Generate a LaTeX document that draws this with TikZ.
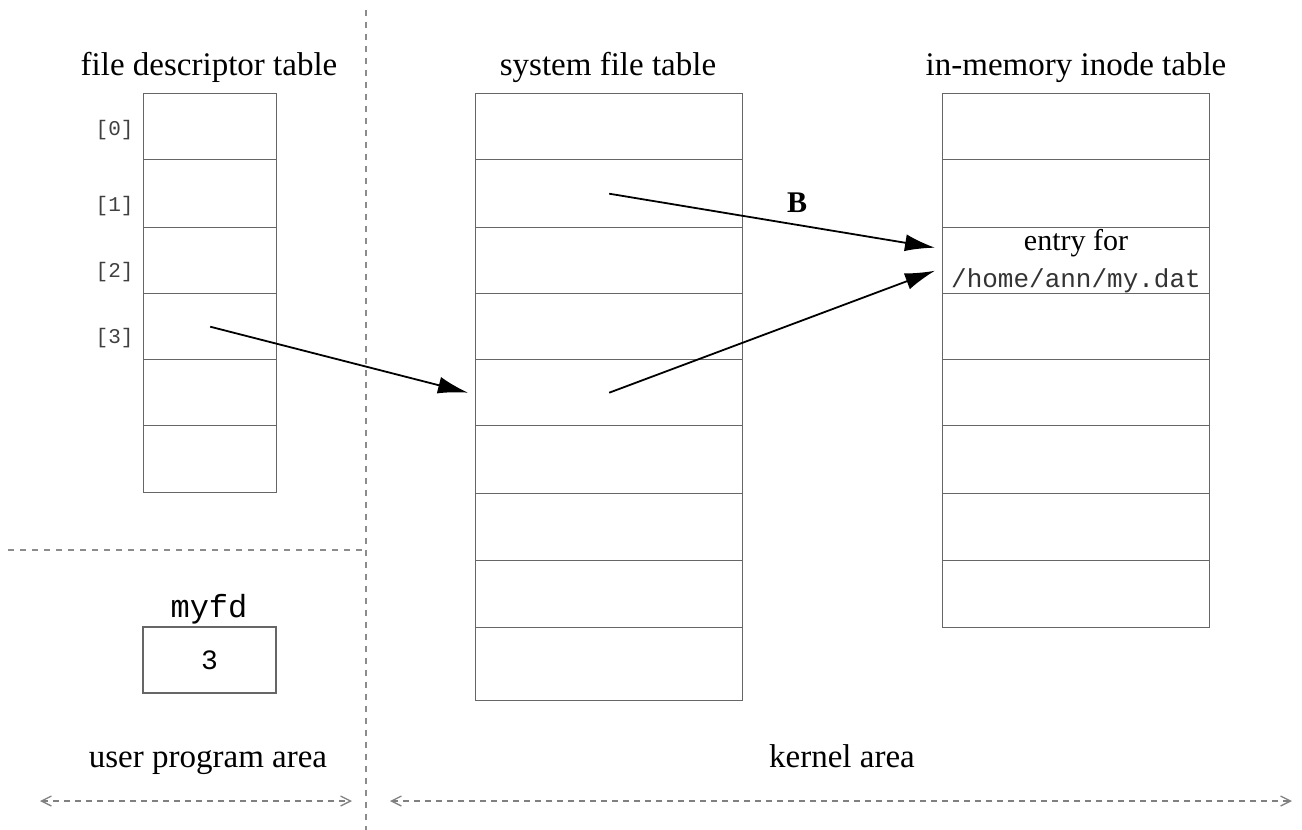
\documentclass[tikz,border=0pt]{standalone}
\usepackage{fontspec}
\setmainfont{Liberation Serif}
\setmonofont{Liberation Mono}
\usetikzlibrary{arrows.meta}
\begin{document}
\begin{tikzpicture}[x=1pt,y=-1pt,
  cell/.style={draw=black!60,line width=1.4pt,inner sep=0pt,anchor=north west},
  ttl/.style={font=\fontsize{33}{38}\selectfont,anchor=base},
  idx/.style={font=\ttfamily\fontsize{21}{24}\selectfont,anchor=base east,text=black!75},
  ptr/.style={line width=1.8pt,-{Latex[length=30pt,width=17pt]}},
  divider/.style={draw=black!45,line width=1.3pt,dash pattern=on 6pt off 6pt},
  span/.style={draw=black!50,line width=1.3pt,dash pattern=on 6pt off 5pt,{Straight Barb[length=10pt,width=10pt]}-{Straight Barb[length=10pt,width=10pt]}}]
\useasboundingbox (0,0) rectangle (1302,830);
% file descriptor table
\foreach \i/\t/\b in {0/93/159,1/159/227,2/227/293,3/293/359,4/359/425,5/425/492}{
  \node[cell,minimum width=133pt,minimum height={(\b-\t)*1pt}] (fd-\i) at (143,\t) {};
}
% system file table
\foreach \i/\t/\b in {0/93/159,1/159/227,2/227/293,3/293/359,4/359/425,5/425/493,6/493/560,7/560/627,8/627/700}{
  \node[cell,minimum width=267pt,minimum height={(\b-\t)*1pt}] (sf-\i) at (475,\t) {};
}
% in-memory inode table
\foreach \i/\t/\b in {0/93/159,1/159/227,2/227/293,3/293/359,4/359/425,5/425/493,6/493/560,7/560/627}{
  \node[cell,minimum width=267pt,minimum height={(\b-\t)*1pt}] (in-\i) at (942,\t) {};
}
% titles
\node[ttl] (tfd) at (209,75) {file descriptor table};
\node[ttl] (tsf) at (608,75) {system file table};
\node[ttl] (tin) at (1076,75) {in-memory inode table};
% indices
\node[idx] (i0) at (137,135) {[0]};
\node[idx] (i1) at (137,211) {[1]};
\node[idx] (i2) at (137,277) {[2]};
\node[idx] (i3) at (137,343) {[3]};
% entry text
\node[font=\fontsize{30}{34}\selectfont,anchor=base] (ef) at (1076,250) {entry for};
\node[font=\ttfamily\fontsize{26}{29}\selectfont,anchor=base,text=black!80] (ep) at (1076,287) {/home/ann/my.dat};
% myfd
\node[font=\ttfamily\fontsize{32}{36}\selectfont,anchor=base] (myfd) at (209,617) {myfd};
\node[cell,minimum width=133pt,minimum height=66pt,font=\ttfamily\fontsize{28}{32}\selectfont,anchor=center] (fdv) at (209.5,660) {3};
% area labels
\node[ttl] (ua) at (208,767) {user program area};
\node[ttl] (ka) at (842,767) {kernel area};
% dividers
\coordinate (vt) at (366,10);
\coordinate (vb) at (366,830);
\coordinate (hl) at (8,550);
\coordinate (hr) at (362,550);
\draw[divider] (vt) -- (vb);
\draw[divider] (hl) -- (hr);
\coordinate (ul) at (40,801);
\coordinate (ur) at (352,801);
\coordinate (kl) at (390,801);
\coordinate (kr) at (1292,801);
\draw[span] (ul) -- (ur);
\draw[span] (kl) -- (kr);
% pointers
\draw[ptr] (fd-3.center) -- ([xshift=-7pt]sf-4.west);
\draw[ptr] (sf-1.center) -- ([xshift=-7pt,yshift=13pt]in-2.west);
\draw[ptr] (sf-4.center) -- ([xshift=-7pt,yshift=-10pt]in-2.west);
\node[font=\bfseries\fontsize{30}{34}\selectfont,anchor=base] (lb) at (797,212) {B};
\end{tikzpicture}
\end{document}
